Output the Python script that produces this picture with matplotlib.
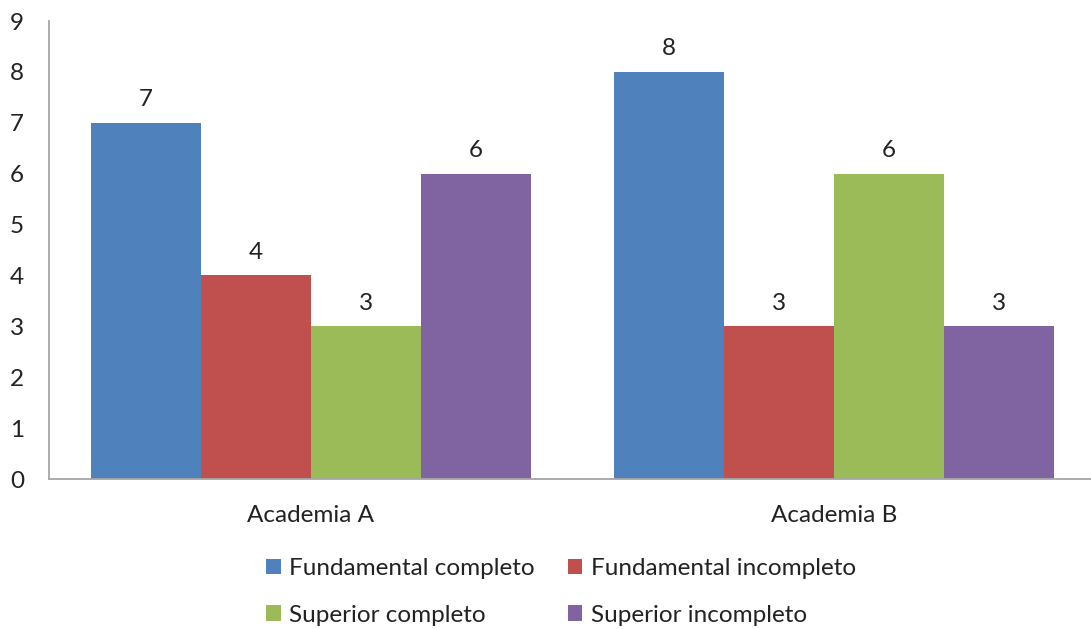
import matplotlib
matplotlib.use("Agg")
import matplotlib.pyplot as plt
import numpy as np

categories = ["Academia A", "Academia B"]
series_names = ["Fundamental completo", "Fundamental incompleto",
                "Superior completo", "Superior incompleto"]
fund_completo = [7, 8]
fund_incompleto = [4, 3]
sup_completo = [3, 6]
sup_incompleto = [6, 3]
yticks = list(range(0, 10))

values = [fund_completo, fund_incompleto, sup_completo, sup_incompleto]
colors = ["#4F81BD", "#C0504D", "#9BBB59", "#8064A2"]

plt.rcParams['font.family'] = ['Lato', 'DejaVu Sans']
FS = 17.5
TC = "#222222"

W, H = 1091, 629
fig = plt.figure(figsize=(W / 100, H / 100), dpi=100)
left_px, right_px, top_px, bot_px = 49, 1091, 21, 479
ax = fig.add_axes([left_px / W, 1 - bot_px / H, (right_px - left_px) / W, (bot_px - top_px) / H])

x = np.arange(len(categories))
bw = 0.21
for i, (vals, c, name) in enumerate(zip(values, colors, series_names)):
    offs = (i - 1.5) * bw
    bars = ax.bar(x + offs, vals, width=bw, color=c, label=name, zorder=2)
    ax.bar_label(bars, padding=9, fontsize=FS, color=TC)

ax.set_xlim(-0.5, 1 + (right_px - 834) / 524)
ax.set_ylim(0, 9)
ax.set_yticks(yticks)
ax.set_xticks(x)
ax.set_xticklabels(categories)
ax.tick_params(axis='both', length=0, labelsize=FS, labelcolor=TC)
ax.tick_params(axis='x', pad=19)
ax.tick_params(axis='y', pad=18)
for s in ["top", "right"]:
    ax.spines[s].set_visible(False)
for s in ["left", "bottom"]:
    ax.spines[s].set_color("#A6A6A6")
    ax.spines[s].set_linewidth(1.3)

handles, labels = ax.get_legend_handles_labels()
order = [0, 2, 1, 3]
leg = fig.legend([handles[k] for k in order], [labels[k] for k in order], ncol=2,
                 loc="center", bbox_to_anchor=(561 / W, 1 - 592 / H),
                 frameon=False, fontsize=FS, handlelength=0.6, handleheight=0.6,
                 handletextpad=0.35, columnspacing=1.35, labelspacing=1.05)
for t in leg.get_texts():
    t.set_color(TC)

fig.savefig("out.png", dpi=100)
